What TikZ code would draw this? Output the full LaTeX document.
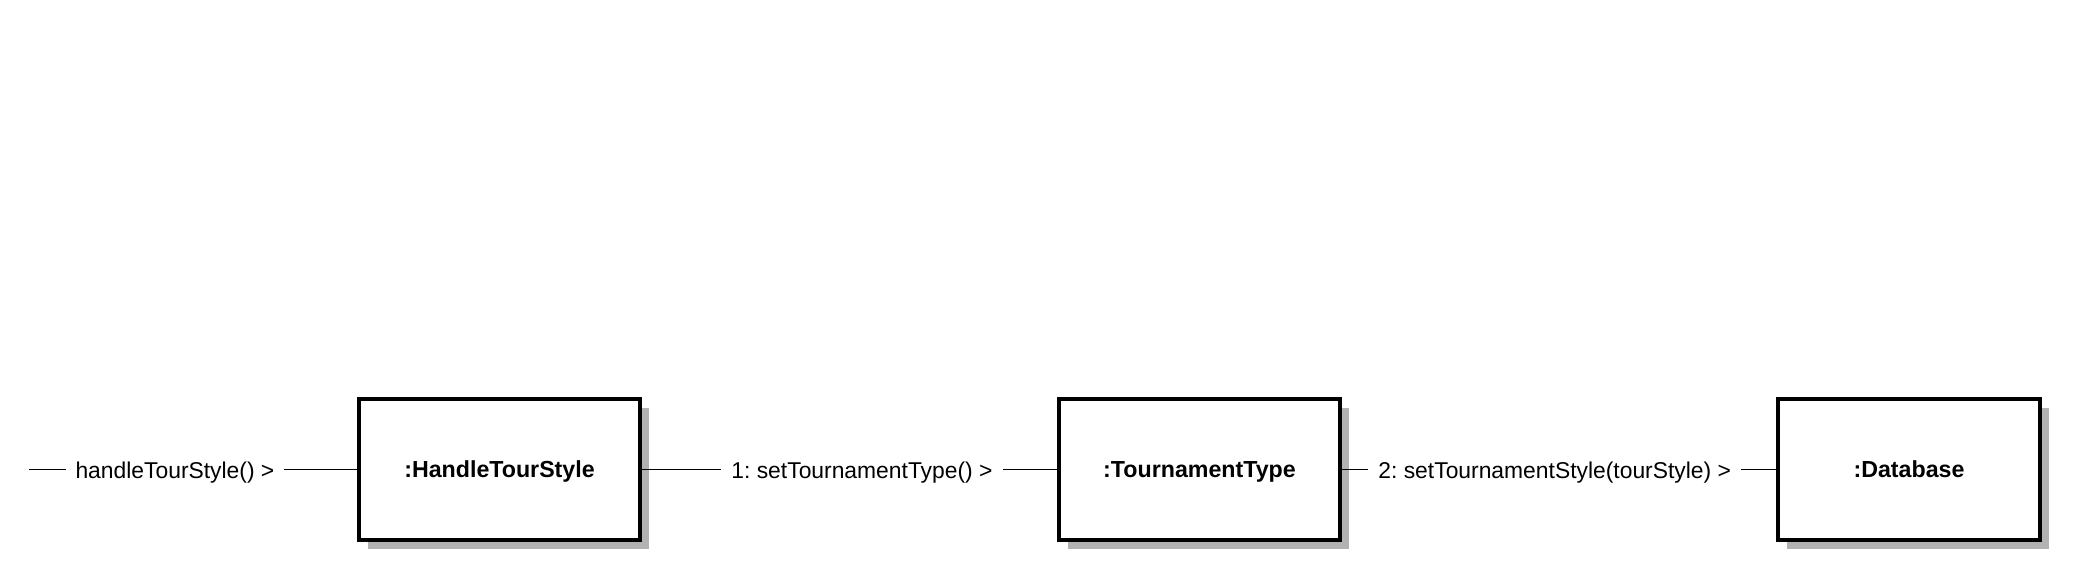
\documentclass[tikz,border=0pt]{standalone}
\usepackage{fontspec}
\setmainfont{Liberation Sans}
\usetikzlibrary{positioning,shadows}
\frenchspacing

\begin{document}
\begin{tikzpicture}[
  x=.01cm,y=-.01cm,
  font=\fontsize{6.5}{8}\selectfont,
  object/.style={draw=black,line width=1.1pt,fill=white,
    minimum width=2.81cm,minimum height=1.41cm,text depth=0pt,
    font=\fontsize{6.6}{8}\selectfont\bfseries,
    drop shadow={fill=black!30,opacity=1,shadow xshift=.09cm,shadow yshift=-.09cm}},
  link/.style={black,line width=.55pt},
  msg/.style={fill=white,inner xsep=.1cm,inner ysep=1pt}
]
\useasboundingbox (0,0) rectangle (2092,580);
% objects
\node[object] (handle) at (499.5,469.5) {:HandleTourStyle};
\node[object] (tourtype) at (1199.5,469.5) {:TournamentType};
\node[object,minimum width=2.62cm] (database) at (1909,469.5) {:Database};
\coordinate (actor) at (29,469.5);
% messages
\draw[link] (actor) -- (handle) node[msg,pos=.445,yshift=-1pt] {handleTourStyle() >};
\draw[link] (handle) -- (tourtype) node[msg,pos=.53,yshift=-1pt] {1: setTournamentType() >};
\draw[link] (tourtype) -- (database) node[msg,pos=.49,yshift=-1pt] {2: setTournamentStyle(tourStyle) >};
\end{tikzpicture}
\end{document}
